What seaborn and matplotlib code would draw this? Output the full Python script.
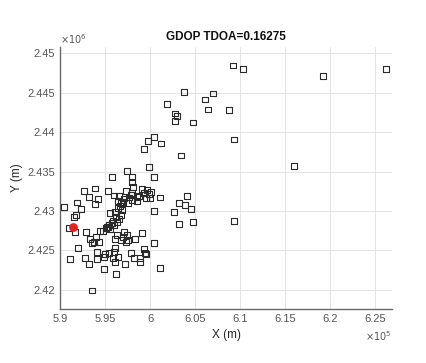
"""
GDOP TDOA scatter — receiver positions (squares) and reference station (red dot)
"""

import matplotlib
matplotlib.use('Agg')
import matplotlib.pyplot as plt
from matplotlib.ticker import FuncFormatter, MultipleLocator
import pandas as pd
import seaborn as sns

# ── Data (metres) ─────────────────────────────────────────────────────────
x_pts = [
    609210, 610323, 619265, 626248, 603786, 606949, 601826, 606125, 606392, 608731,
    602717, 602940, 602784, 604722, 600379, 599777, 601158, 599265, 603452, 609288,
    616003, 599855, 597439, 595702, 597996, 600379, 609354,
    597963, 598037, 592617, 593879, 595253, 597294, 599039, 599596, 600041, 599856,
    593211, 594139, 595921, 596478, 597814, 598482, 598779, 599484, 599967, 601081,
    593842, 596441, 596700, 596997, 597480, 597925, 598482,
    590427, 591875, 592246, 591726, 591541,
    604050, 603159, 603865, 604496, 602677, 600375,
    595513, 596107, 596441, 596886, 596700, 596552, 596255, 595995, 595698, 595327,
    595067, 594770, 594399, 595216, 595513,
    592840, 593323, 593954, 593731, 593471, 594325,
    597072, 597369, 597554, 597257, 596997, 596255, 596069, 596700, 598334, 599113,
    600375, 590984, 591615, 603159, 604718,
    591949, 591058, 592729, 593211, 594028, 594102, 594807, 594993, 595438, 595921,
    596069, 595810, 596107, 596441, 597183, 597851, 598222, 598816, 598853, 599410,
    599299, 599484, 594844, 596181, 601081, 593471,
    596600, 597100, 597600, 595800, 596200, 595400, 598000, 599300,
]
y_pts = [
    2448443, 2448013, 2447089, 2448013, 2445101, 2444899, 2443582, 2444139, 2442873, 2442785,
    2442367, 2442025, 2441393, 2441228, 2439367, 2438899, 2438570, 2437848, 2437051, 2439076,
    2435735, 2435608, 2435102, 2434342, 2434266, 2434266, 2428735,
    2433713, 2433080, 2432574, 2432869, 2432532, 2432574, 2432785, 2432658, 2432447, 2432152,
    2431815, 2431519, 2431983, 2431899, 2432026, 2431815, 2431899, 2431604, 2431604, 2431730,
    2430844, 2431308, 2430971, 2431182, 2430971, 2431393, 2431308,
    2430549, 2431097, 2430211, 2429494, 2429199,
    2431941, 2430971, 2430760, 2430253, 2429832, 2430000,
    2429705, 2429916, 2430338, 2430127, 2429494, 2428946, 2428650, 2428228, 2428439, 2428018,
    2427807, 2427511, 2427511, 2427933, 2427680,
    2427385, 2426414, 2426667, 2426119, 2425908, 2426119,
    2427385, 2426963, 2426330, 2426119, 2426667, 2426963, 2426414, 2426330, 2426414, 2427174,
    2425992, 2427807, 2427385, 2428355, 2428650,
    2425317, 2423967, 2424094, 2423250, 2424769, 2423925, 2424136, 2424516, 2424642, 2424769,
    2425275, 2424094, 2423588, 2424220, 2423250, 2424727, 2424009, 2423588, 2424094, 2424642,
    2425149, 2424558, 2422617, 2422068, 2422828, 2419917,
    2430600, 2431600, 2431700, 2428800, 2429200, 2428300, 2432300, 2432300,
]
ref_x = [591429]
ref_y = [2428018]

TITLE = 'GDOP TDOA=0.16275'

# ── Style ─────────────────────────────────────────────────────────────────
sns.set_style('white')
plt.rcParams['font.family'] = ['Liberation Sans', 'DejaVu Sans']
TXT = '#262626'
TICK = '#555555'

df = pd.DataFrame({'x': x_pts, 'y': y_pts})
ref = pd.DataFrame({'x': ref_x, 'y': ref_y})

fig = plt.figure(figsize=(4.26, 3.63), dpi=100)
ax = fig.add_axes([0.142, 0.149, 0.778, 0.722])

sns.scatterplot(data=df, x='x', y='y', marker='s', s=17, facecolors='none',
                edgecolor='#2a2a2a', linewidth=0.8, ax=ax, zorder=3)
sns.scatterplot(data=ref, x='x', y='y', marker='o', s=40, color='#e8221b',
                edgecolor='#e8221b', linewidth=0, ax=ax, zorder=4)

ax.set_xlim(590000, 626900)
ax.set_ylim(2417600, 2450800)
ax.xaxis.set_major_locator(MultipleLocator(5000))
ax.yaxis.set_major_locator(MultipleLocator(5000))
ax.xaxis.set_major_formatter(FuncFormatter(lambda v, p: f'{v / 1e5:g}'))
ax.yaxis.set_major_formatter(FuncFormatter(lambda v, p: f'{v / 1e6:g}'))

ax.grid(True, color='#e3e3e3', linewidth=0.7)
ax.set_axisbelow(True)
for side in ['top', 'right']:
    ax.spines[side].set_visible(False)
for side in ['left', 'bottom']:
    ax.spines[side].set_color('#6a6a6a')
    ax.spines[side].set_linewidth(1.0)
ax.tick_params(direction='in', length=3, width=0.7, color='#6a6a6a',
               labelsize=8, labelcolor=TICK, pad=4)

ax.set_xlabel('X (m)', fontsize=8.5, color=TXT, labelpad=3)
ax.set_ylabel('Y (m)', fontsize=8.5, color=TXT, labelpad=3)
ax.set_title(TITLE, fontsize=8.5, fontweight='bold', color='#111111', pad=5)

# MATLAB-style exponent labels
ax.text(0.0, 1.005, r'$\times10^{6}$', transform=ax.transAxes, ha='left', va='bottom',
        fontsize=7, color=TICK)
ax.text(1.0, -0.105, r'$\times10^{5}$', transform=ax.transAxes, ha='right', va='center',
        fontsize=7, color=TICK)

plt.savefig('out.png', dpi=100)
plt.close()
